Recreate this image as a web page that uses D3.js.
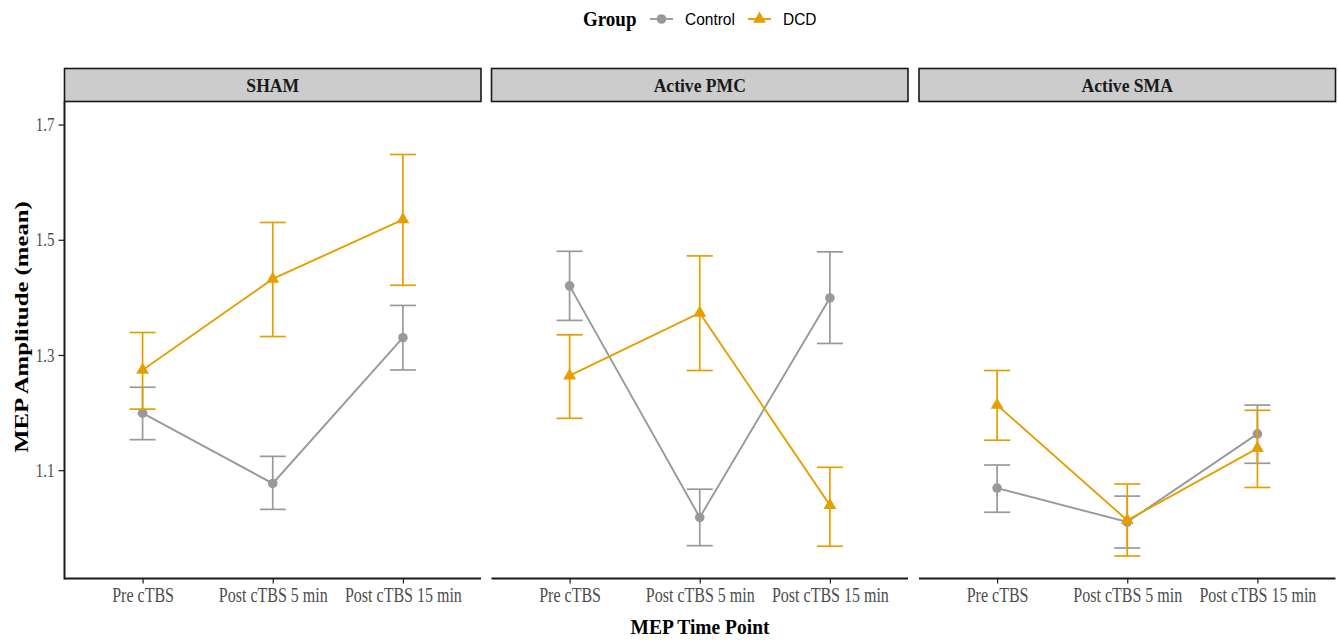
<!DOCTYPE html>
<html>
<head>
<meta charset="utf-8">
<script src="https://cdn.jsdelivr.net/npm/d3@7"></script>
<style>
  html, body { margin: 0; padding: 0; background: #fff; }
  svg { display: block; }
</style>
</head>
<body>
<svg id="chart" width="1338" height="640"></svg>
<script>
// Facets, time points and groups
const panels = ["SHAM", "Active PMC", "Active SMA"];
const timePoints = ["Pre cTBS", "Post cTBS 5 min", "Post cTBS 15 min"];
const groups = ["Control", "DCD"];
const yTicks = [1.1, 1.3, 1.5, 1.7];

// Mean MEP amplitude per panel (rows) and time point (columns)
const controlMean = [[1.199, 1.077, 1.330], [1.420, 1.018, 1.399], [1.069, 1.010, 1.163]];
const controlLow  = [[1.153, 1.032, 1.274], [1.360, 0.969, 1.320], [1.027, 0.965, 1.112]];
const controlHigh = [[1.244, 1.124, 1.386], [1.480, 1.067, 1.479], [1.109, 1.055, 1.213]];

const dcdMean = [[1.274, 1.432, 1.535], [1.264, 1.373, 1.039], [1.213, 1.013, 1.138]];
const dcdLow  = [[1.206, 1.332, 1.421], [1.190, 1.273, 0.968], [1.152, 0.951, 1.070]];
const dcdHigh = [[1.339, 1.530, 1.648], [1.335, 1.472, 1.105], [1.273, 1.076, 1.204]];

const colors = { Control: "#999999", DCD: "#E69F00" };

const seriesData = {
  Control: { mean: controlMean, lo: controlLow, hi: controlHigh },
  DCD: { mean: dcdMean, lo: dcdLow, hi: dcdHigh }
};

const svg = d3.select("#chart");

// Layout
const panelLeft = [64.5, 491.5, 919];
const panelWidth = 416.5;
const stripTop = 68.5, stripBottom = 101.5;
const plotTop = 101.5, plotBottom = 578.5;
const textStretch = 1.25;   // tall, narrow lettering of the tick labels

const y = d3.scaleLinear().domain([0.912, 1.740]).range([plotBottom, plotTop]);

const serif = "'Liberation Serif', 'Times New Roman', serif";
const sans = "'Liberation Sans', Arial, sans-serif";

// Triangle symbol path
const triPath = d3.symbol().type(d3.symbolTriangle).size(72)();

panels.forEach((name, p) => {
  const x0 = panelLeft[p];
  // discrete axis with 0.6 step expansion at both ends
  const x = d3.scalePoint().domain(timePoints).range([x0, x0 + panelWidth]).padding(0.6);
  const step = x.step();
  const g = svg.append("g");

  // Strip
  g.append("rect")
    .attr("x", x0).attr("y", stripTop)
    .attr("width", panelWidth).attr("height", stripBottom - stripTop)
    .attr("fill", "#cccccc").attr("stroke", "#1a1a1a").attr("stroke-width", 1.6);
  g.append("text")
    .attr("transform", `translate(${x0 + panelWidth / 2},${(stripTop + stripBottom) / 2 + 6.5}) scale(1,1.08)`)
    .attr("text-anchor", "middle")
    .attr("font-family", serif).attr("font-weight", "bold").attr("font-size", 17.6)
    .attr("fill", "#1a1a1a")
    .text(name);

  // X axis
  const xa = g.append("g").attr("transform", `translate(0,${plotBottom})`)
    .call(d3.axisBottom(x).tickSize(5).tickSizeOuter(0));
  xa.select(".domain").attr("stroke", "#1a1a1a").attr("stroke-width", 2)
    .attr("d", `M${x0},0H${x0 + panelWidth}`);
  xa.selectAll(".tick line").attr("stroke", "#1a1a1a").attr("stroke-width", 1.2);
  xa.selectAll(".tick text").attr("font-family", serif).attr("font-size", 16)
    .attr("fill", "#4d4d4d").attr("dy", 0).attr("y", 19)
    .attr("transform", `scale(1,${textStretch})`);

  // Y axis only on the first panel
  if (p === 0) {
    const ya = g.append("g").attr("transform", `translate(${x0},0)`)
      .call(d3.axisLeft(y).tickValues(yTicks).tickFormat(d3.format(".1f"))
        .tickSize(6).tickSizeOuter(0));
    ya.select(".domain").attr("stroke", "#1a1a1a").attr("stroke-width", 2)
      .attr("d", `M0,${plotTop}V${plotBottom + 1}`);
    ya.selectAll(".tick line").attr("stroke", "#1a1a1a").attr("stroke-width", 1.2);
    ya.selectAll(".tick text").attr("font-family", serif).attr("font-size", 15)
      .attr("fill", "#4d4d4d").attr("x", -10).attr("dy", "0.33em")
      .attr("transform", `scale(1,${textStretch})`);
  }

  const capHalf = step * 0.1;

  groups.forEach(gr => {
    const s = seriesData[gr];
    const col = colors[gr];
    const pts = timePoints.map((t, i) => ({
      t, m: s.mean[p][i], lo: s.lo[p][i], hi: s.hi[p][i]
    }));

    // Error bars
    const eb = g.append("g").attr("stroke", col).attr("stroke-width", 1.7).attr("fill", "none");
    pts.forEach(d => {
      const cx = x(d.t);
      eb.append("line").attr("x1", cx).attr("x2", cx).attr("y1", y(d.hi)).attr("y2", y(d.lo));
      eb.append("line").attr("x1", cx - capHalf).attr("x2", cx + capHalf).attr("y1", y(d.hi)).attr("y2", y(d.hi));
      eb.append("line").attr("x1", cx - capHalf).attr("x2", cx + capHalf).attr("y1", y(d.lo)).attr("y2", y(d.lo));
    });

    // Line
    g.append("path")
      .datum(pts)
      .attr("fill", "none").attr("stroke", col).attr("stroke-width", 1.9)
      .attr("d", d3.line().x(d => x(d.t)).y(d => y(d.m)));

    // Points
    if (gr === "Control") {
      g.selectAll(null).data(pts).enter().append("circle")
        .attr("cx", d => x(d.t)).attr("cy", d => y(d.m)).attr("r", 4.8)
        .attr("fill", col);
    } else {
      g.selectAll(null).data(pts).enter().append("path")
        .attr("d", triPath)
        .attr("transform", d => `translate(${x(d.t)},${y(d.m)})`)
        .attr("fill", col);
    }
  });
});

// Axis titles
svg.append("text")
  .attr("transform", "translate(700,634) scale(1,1.08)")
  .attr("text-anchor", "middle")
  .attr("font-family", serif).attr("font-weight", "bold").attr("font-size", 19.5)
  .attr("fill", "#000")
  .text("MEP Time Point");

svg.append("text")
  .attr("transform", "translate(28,327) rotate(-90) scale(1.27,1)")
  .attr("text-anchor", "middle")
  .attr("font-family", serif).attr("font-weight", "bold").attr("font-size", 19.5)
  .attr("fill", "#000")
  .text("MEP Amplitude (mean)");

// Legend
const legend = svg.append("g");
legend.append("text")
  .attr("transform", "translate(583,26) scale(1,1.08)")
  .attr("font-family", serif).attr("font-weight", "bold").attr("font-size", 19)
  .attr("fill", "#000")
  .text("Group");

const legendKeys = [
  { name: "Control", lx: 650, tx: 685 },
  { name: "DCD", lx: 748, tx: 783 }
];
legendKeys.forEach(k => {
  const col = colors[k.name];
  legend.append("line")
    .attr("x1", k.lx).attr("x2", k.lx + 23).attr("y1", 19).attr("y2", 19)
    .attr("stroke", col).attr("stroke-width", 1.9);
  if (k.name === "Control") {
    legend.append("circle").attr("cx", k.lx + 11.5).attr("cy", 19).attr("r", 4.8).attr("fill", col);
  } else {
    legend.append("path").attr("d", triPath)
      .attr("transform", `translate(${k.lx + 11.5},19)`).attr("fill", col);
  }
  legend.append("text")
    .attr("transform", `translate(${k.tx},24.5) scale(1,1.12)`)
    .attr("font-family", sans).attr("font-size", 15.5)
    .attr("fill", "#000")
    .text(k.name);
});
</script>
</body>
</html>
